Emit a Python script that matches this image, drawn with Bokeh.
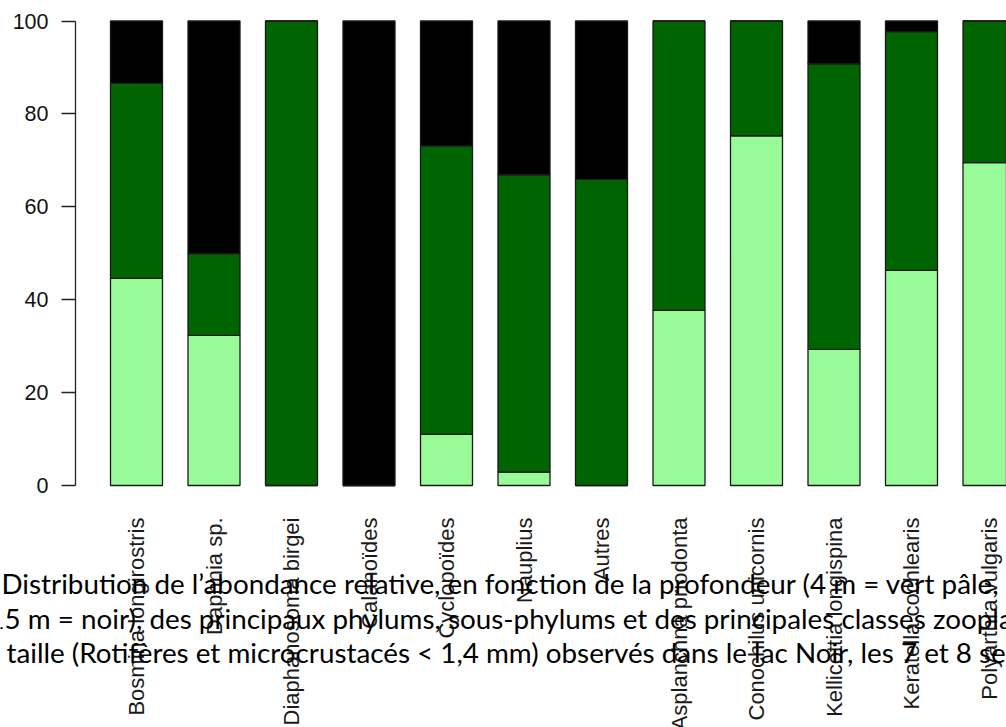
import math
from bokeh.plotting import figure
from bokeh.models import ColumnDataSource, Range1d, FixedTicker, Label
from bokeh.embed import file_html
from bokeh.resources import INLINE

taxa = ["Bosmina longirostris", "Daphnia sp.", "Diaphanosoma birgei", "Calanoïdes",
        "Cyclopoïdes", "Nauplius", "Autres", "Asplanchna priodonta",
        "Conochilus unicornis", "Kellicottia longispina", "Keratella cochlearis",
        "Polyarthra vulgaris"]
prof_4m = [44.6, 32.3, 0.0, 0.0, 11.0, 2.9, 0.0, 37.7, 75.3, 29.3, 46.3, 69.5]
prof_8m = [42.0, 17.6, 100.0, 0.0, 62.1, 64.0, 65.9, 62.3, 24.7, 61.5, 51.4, 30.5]
prof_15m = [13.4, 50.1, 0.0, 100.0, 26.9, 33.1, 34.1, 0.0, 0.0, 9.2, 2.3, 0.0]
y_ticks = [0, 20, 40, 60, 80, 100]

caption_lines = [
    "Distribution de l’abondance relative, en fonction de la profondeur (4 m = vert pâle, 8 m = vert foncé et",
    "15 m = noir), des principaux phylums, sous-phylums et des principales classes zooplanctoniques de petite",
    "taille (Rotifères et microcrustacés < 1,4 mm) observés dans le lac Noir, les 7 et 8 septembre",
]

W, H = 1006, 727
# pixel <-> data helpers (layout only)
def dx(px):
    return 1 + (px - 136) / 77.5

def dy(py):
    return (485 - py) / 4.645

pos = list(range(1, len(taxa) + 1))
src = ColumnDataSource(dict(x=pos, m4=prof_4m, m8=prof_8m, m15=prof_15m))

p = figure(width=W, height=H, output_backend="svg", toolbar_location=None,
           x_range=Range1d(dx(0), dx(W)), y_range=Range1d(dy(H), dy(0)),
           min_border=0, min_border_left=0, min_border_right=0,
           min_border_top=0, min_border_bottom=0)
p.outline_line_color = None
p.grid.visible = False
p.background_fill_color = "white"
p.border_fill_color = "white"

p.vbar_stack(["m4", "m8", "m15"], x="x", width=0.671, source=src,
             color=None, fill_color=["#98FB98", "#006400", "#000000"],
             line_color="#1a1a1a", line_width=1.3)

# y axis
ya = p.yaxis[0]
ya.fixed_location = dx(75)
ya.ticker = FixedTicker(ticks=y_ticks)
ya.bounds = (0, 100)
ya.axis_line_color = "#222222"
ya.axis_line_width = 1.3
ya.major_tick_line_color = "#222222"
ya.major_tick_line_width = 1.3
ya.major_tick_out = 14
ya.major_tick_in = 0
ya.minor_tick_line_color = None
ya.major_label_standoff = 13
ya.major_label_text_font = "Liberation Sans"
ya.major_label_text_font_size = "21.5px"
ya.major_label_text_color = "#111111"

# x axis
xa = p.xaxis[0]
xa.fixed_location = 0
xa.ticker = FixedTicker(ticks=pos)
xa.major_label_overrides = {i: t for i, t in zip(pos, taxa)}
xa.major_label_orientation = math.pi / 2
xa.axis_line_color = None
xa.major_tick_line_color = None
xa.minor_tick_line_color = None
xa.major_tick_out = 0
xa.major_tick_in = 0
xa.major_label_standoff = 32
xa.major_label_text_font = "Liberation Sans"
xa.major_label_text_font_size = "22px"
xa.major_label_text_color = "#1a1a1a"

# caption overlay
cap_pos = [(1, 583.3), (-12, 618.3), (6, 651.7)]
for txt, (px, py) in zip(caption_lines, cap_pos):
    p.add_layout(Label(x=dx(px), y=dy(py), text=txt, text_font="Lato",
                       text_font_size="27.8px", text_color="black",
                       text_baseline="alphabetic", text_align="left"))

open("out.html", "w").write(file_html(p, INLINE))
